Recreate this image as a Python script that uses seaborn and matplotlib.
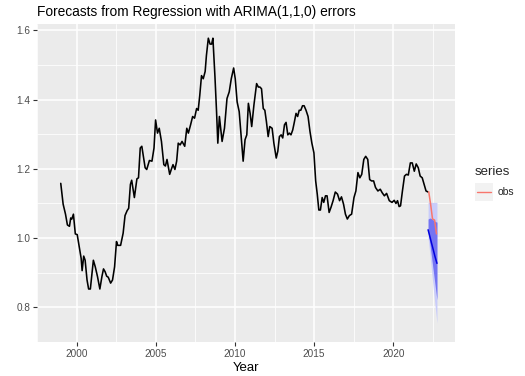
import seaborn as sns
import pandas as pd
import matplotlib.pyplot as plt
import numpy as np
from matplotlib.patches import Rectangle
from matplotlib.lines import Line2D

# history
hist_year = [1999.0, 1999.15, 1999.3, 1999.42, 1999.55, 1999.63, 1999.7, 1999.8, 1999.92, 2000.04,
             2000.17, 2000.29, 2000.35, 2000.45, 2000.54, 2000.66, 2000.76, 2000.87, 2001.06, 2001.18,
             2001.32, 2001.47, 2001.6, 2001.7, 2001.8, 2001.9, 2002.0, 2002.15, 2002.27, 2002.4,
             2002.52, 2002.6, 2002.78, 2002.94, 2003.06, 2003.19, 2003.29, 2003.4, 2003.48, 2003.65,
             2003.81, 2003.91, 2004.02, 2004.12, 2004.33, 2004.43, 2004.6, 2004.76, 2004.89, 2004.99,
             2005.11, 2005.22, 2005.36, 2005.51, 2005.61, 2005.71, 2005.88, 2005.98, 2006.09, 2006.21,
             2006.32, 2006.42, 2006.54, 2006.66, 2006.83, 2006.96, 2007.06, 2007.2, 2007.33, 2007.45,
             2007.58, 2007.68, 2007.78, 2007.89, 2008.0, 2008.12, 2008.2, 2008.32, 2008.43, 2008.53,
             2008.61, 2008.74, 2008.84, 2008.92, 2009.02, 2009.19, 2009.34, 2009.5, 2009.64, 2009.77,
             2009.92, 2010.02, 2010.14, 2010.27, 2010.39, 2010.52, 2010.64, 2010.75, 2010.85, 2010.96,
             2011.06, 2011.2, 2011.37, 2011.48, 2011.58, 2011.68, 2011.79, 2011.89, 2011.99, 2012.1,
             2012.2, 2012.35, 2012.46, 2012.61, 2012.71, 2012.81, 2012.92, 2013.02, 2013.13, 2013.23,
             2013.34, 2013.44, 2013.54, 2013.65, 2013.75, 2013.86, 2013.96, 2014.06, 2014.16, 2014.27,
             2014.37, 2014.49, 2014.62, 2014.74, 2014.86, 2014.99, 2015.1, 2015.2, 2015.3, 2015.4,
             2015.51, 2015.61, 2015.72, 2015.82, 2015.95, 2016.07, 2016.2, 2016.34, 2016.48, 2016.61,
             2016.73, 2016.86, 2016.98, 2017.1, 2017.23, 2017.37, 2017.52, 2017.64, 2017.77, 2017.89,
             2018.01, 2018.14, 2018.26, 2018.39, 2018.51, 2018.63, 2018.76, 2018.88, 2019.03, 2019.18,
             2019.3, 2019.44, 2019.58, 2019.75, 2019.92, 2020.06, 2020.17, 2020.27, 2020.37, 2020.46,
             2020.58, 2020.71, 2020.83, 2020.95, 2021.08, 2021.2, 2021.33, 2021.45, 2021.58, 2021.7,
             2021.83, 2021.95, 2022.07, 2022.2]
hist_value = [1.158, 1.098, 1.069, 1.038, 1.034, 1.058, 1.055, 1.069, 1.012, 1.01,
              0.974, 0.941, 0.906, 0.948, 0.936, 0.879, 0.853, 0.853, 0.936, 0.917,
              0.889, 0.853, 0.889, 0.911, 0.903, 0.89, 0.887, 0.87, 0.879, 0.917,
              0.99, 0.979, 0.979, 1.014, 1.065, 1.079, 1.086, 1.155, 1.167, 1.117,
              1.171, 1.174, 1.26, 1.265, 1.203, 1.198, 1.224, 1.222, 1.26, 1.341,
              1.303, 1.317, 1.279, 1.212, 1.208, 1.227, 1.184, 1.198, 1.212, 1.198,
              1.222, 1.274, 1.269, 1.279, 1.265, 1.317, 1.303, 1.327, 1.351, 1.346,
              1.374, 1.369, 1.412, 1.469, 1.46, 1.481, 1.527, 1.577, 1.56, 1.56,
              1.577, 1.465, 1.365, 1.274, 1.351, 1.279, 1.317, 1.403, 1.422, 1.46,
              1.491, 1.46, 1.393, 1.365, 1.298, 1.222, 1.284, 1.298, 1.389, 1.36,
              1.322, 1.384, 1.446, 1.436, 1.436, 1.431, 1.374, 1.369, 1.336, 1.293,
              1.322, 1.317, 1.274, 1.231, 1.251, 1.293, 1.298, 1.289, 1.327, 1.334,
              1.298, 1.303, 1.298, 1.312, 1.334, 1.36, 1.351, 1.369, 1.369, 1.382,
              1.382, 1.369, 1.351, 1.308, 1.274, 1.246, 1.165, 1.127, 1.081, 1.081,
              1.117, 1.103, 1.122, 1.122, 1.074, 1.089, 1.108, 1.133, 1.127, 1.108,
              1.119, 1.098, 1.069, 1.055, 1.065, 1.069, 1.117, 1.136, 1.189, 1.174,
              1.184, 1.227, 1.236, 1.227, 1.169, 1.165, 1.165, 1.146, 1.136, 1.141,
              1.131, 1.122, 1.129, 1.108, 1.103, 1.109, 1.1, 1.108, 1.091, 1.093,
              1.136, 1.179, 1.184, 1.182, 1.217, 1.217, 1.193, 1.214, 1.203, 1.179,
              1.174, 1.155, 1.136, 1.133]

# observed test data
obs_year = [2022.24, 2022.36, 2022.48, 2022.61, 2022.73]
obs_value = [1.134, 1.098, 1.055, 1.052, 1.012]

# forecast and intervals
fc_year = [2022.2, 2022.31, 2022.42, 2022.53, 2022.64, 2022.76]
fc_mean = [1.024, 1.005, 0.985, 0.966, 0.946, 0.927]
lo80 = [1.018, 0.985, 0.945, 0.905, 0.865, 0.822]
hi80 = [1.055, 1.058, 1.056, 1.052, 1.048, 1.046]
lo95 = [1.0, 0.955, 0.905, 0.855, 0.805, 0.755]
hi95 = [1.103, 1.103, 1.103, 1.103, 1.103, 1.103]

sns.set_theme(style='darkgrid')
plt.rcParams['font.family'] = ['Liberation Sans', 'DejaVu Sans']

fig = plt.figure(figsize=(5.25, 3.76), dpi=100)
ax = fig.add_axes([37 / 525, 1 - 342 / 376, 418 / 525, 318 / 376])
ax.set_facecolor('#EBEBEB')

ax.fill_between(fc_year, lo95, hi95, color='#C9CCFA', linewidth=0)
ax.fill_between(fc_year, lo80, hi80, color='#7474F2', linewidth=0)

hist = pd.DataFrame({'Year': hist_year, 'value': hist_value})
sns.lineplot(data=hist, x='Year', y='value', color='black', linewidth=1.15, ax=ax)
obs = pd.DataFrame({'Year': obs_year, 'value': obs_value, 'series': 'obs'})
sns.lineplot(data=obs, x='Year', y='value', hue='series', palette=['#F8766D'],
             linewidth=1.1, ax=ax, legend=False)
sns.lineplot(x=fc_year, y=fc_mean, color='#0000DD', linewidth=1.1, ax=ax)

ax.set_xlim(1997.8, 2023.9)
ax.set_ylim(0.714, 1.618)
ax.set_xticks([2000, 2005, 2010, 2015, 2020])
ax.set_xticks(np.arange(1997.5, 2024, 5), minor=True)
ax.set_yticks([0.8, 1.0, 1.2, 1.4, 1.6])
ax.set_yticks([0.7, 0.9, 1.1, 1.3, 1.5], minor=True)
ax.set_yticklabels(['0.8', '1.0', '1.2', '1.4', '1.6'])
ax.grid(which='major', color='white', linewidth=1.1)
ax.grid(which='minor', color='white', linewidth=0.55)
ax.tick_params(which='major', length=3, width=0.8, color='#333333', labelsize=7.2,
               labelcolor='#4D4D4D', pad=2, bottom=True, left=True)
ax.tick_params(which='minor', length=0)
for s in ax.spines.values():
    s.set_visible(False)
ax.set_xlabel('Year', fontsize=9.5, color='black', labelpad=2)
ax.set_ylabel('')

fig.text(37 / 525, 1 - 12 / 376, 'Forecasts from Regression with ARIMA(1,1,0) errors',
         fontsize=9.9, color='black', va='center', ha='left')

# legend
fig.text(475 / 525, 1 - 172 / 376, 'series', fontsize=9.5, va='center', ha='left')
fig.patches.append(Rectangle((475 / 525, 1 - 201 / 376), 18 / 525, 18 / 376,
                             transform=fig.transFigure, facecolor='#F2F2F2',
                             edgecolor='none'))
fig.lines.append(Line2D([477 / 525, 491 / 525], [1 - 192 / 376, 1 - 192 / 376],
                        transform=fig.transFigure, color='#F8766D', linewidth=1.0))
fig.text(498 / 525, 1 - 192 / 376, 'obs', fontsize=7.5, va='center', ha='left')

fig.savefig('out.png', dpi=100, facecolor='white')
